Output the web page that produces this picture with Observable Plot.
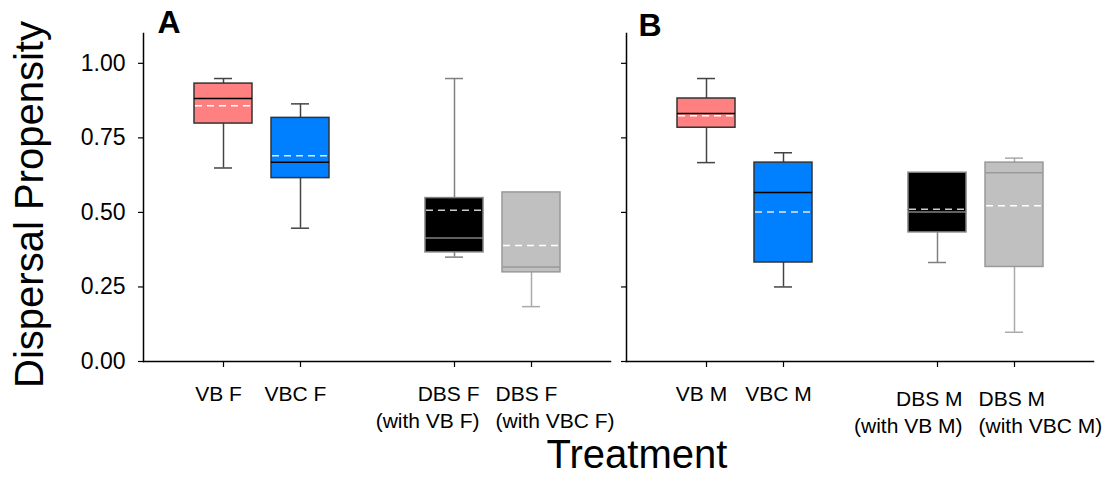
<!DOCTYPE html>
<html><head><meta charset="utf-8">
<script src="https://cdn.jsdelivr.net/npm/d3@7"></script>
<script src="https://cdn.jsdelivr.net/npm/@observablehq/plot@0.6"></script>
<style>
body{margin:0;background:#fff;font-family:"Liberation Sans",Arial,sans-serif;}
#wrap{position:relative;width:1109px;height:477px;background:#fff;}
#wrap svg{position:absolute;top:0;}
#xlabel{position:absolute;left:437px;width:400px;top:434px;height:40px;text-align:center;font-size:40px;line-height:40px;color:#000;}
</style>
</head><body>
<div id="wrap"><div id="xlabel"></div></div>
<script>
// ---- data ----
const yLabel = "Dispersal Propensity";
const xLabel = "Treatment";
const yTicks = [0, 0.25, 0.5, 0.75, 1.0];

const categoriesA = ["VB F", "VBC F", "DBS F\n(with VB F)", "DBS F\n(with VBC F)"];
const lowA    = [0.649, 0.447, 0.350, 0.184];
const q1A     = [0.798, 0.615, 0.366, 0.299];
const medianA = [0.882, 0.668, 0.414, 0.317];
const meanA   = [0.858, 0.690, 0.507, 0.389];
const q3A     = [0.932, 0.817, 0.548, 0.567];
const highA   = [0.949, 0.864, 0.949, 0.567];

const categoriesB = ["VB M", "VBC M", "DBS M\n(with VB M)", "DBS M\n(with VBC M)"];
const lowB    = [0.667, 0.250, 0.332, 0.098];
const q1B     = [0.784, 0.332, 0.433, 0.317];
const medianB = [0.832, 0.567, 0.501, 0.633];
const meanB   = [0.824, 0.501, 0.511, 0.522];
const q3B     = [0.882, 0.667, 0.633, 0.667];
const highB   = [0.949, 0.700, 0.633, 0.682];

// ---- styles ----
const fills   = ["#ff8080", "#0080ff", "#000000", "#c0c0c0"];
const strokes = ["#333333", "#333333", "#808080", "#999999"];
const whisk   = ["#444444", "#444444", "#808080", "#aaaaaa"];
const medCol  = ["#000000", "#000000", "#808080", "#999999"];
const meanCol = ["#ffffff", "#e6e6e6", "#cccccc", "#ffffff"];
const FONT = '"Liberation Sans", Arial, sans-serif';

function rowsOf(cats, low, q1, med, mean, q3, high) {
  return cats.map((c, i) => ({cat: c, i, low: low[i], q1: q1[i], median: med[i], mean: mean[i], q3: q3[i], high: high[i]}));
}

function panel({cats, rows, width, marginLeft, marginRight, letter, showLabels, dbsDy, letterDx, letterDy}) {
  const domain = [cats[0], cats[1], " ", cats[2], cats[3]];
  const lab = {x: "cat", text: "cat", frameAnchor: "bottom", lineAnchor: "top", fontSize: 21, lineHeight: 1.26, fill: "#000"};
  const marks = [
    Plot.ruleX(rows, {x: "cat", y1: "low", y2: "q1", stroke: d => whisk[d.i], strokeWidth: 1.5}),
    Plot.ruleX(rows.filter(d => d.high > d.q3), {x: "cat", y1: "q3", y2: "high", stroke: d => whisk[d.i], strokeWidth: 1.5}),
    Plot.tickY(rows, {x: "cat", y: "low", stroke: d => whisk[d.i], strokeWidth: 1.5, insetLeft: 20, insetRight: 20}),
    Plot.tickY(rows.filter(d => d.high > d.q3), {x: "cat", y: "high", stroke: d => whisk[d.i], strokeWidth: 1.5, insetLeft: 20, insetRight: 20}),
    Plot.barY(rows, {x: "cat", y1: "q1", y2: "q3", fill: d => fills[d.i], stroke: d => strokes[d.i], strokeWidth: 1.5}),
    Plot.tickY(rows, {x: "cat", y: "median", stroke: d => medCol[d.i], strokeWidth: 1.5}),
    Plot.tickY(rows, {x: "cat", y: "mean", stroke: d => meanCol[d.i], strokeWidth: 1.5, strokeDasharray: "7,5", insetLeft: 1, insetRight: 1}),
    Plot.frame({anchor: "left", stroke: "#000", strokeWidth: 1.5}),
    Plot.frame({anchor: "bottom", stroke: "#000", strokeWidth: 1.5}),
    Plot.axisY({ticks: yTicks, tickFormat: showLabels ? d3.format(".2f") : () => "", tickSize: 5, tickPadding: 13, fontSize: 23, label: null, strokeWidth: 1.2}),
    Plot.axisX({ticks: cats, tickSize: 6, tickFormat: () => "", label: null, strokeWidth: 1.2}),
    Plot.text(rows.slice(0, 2), {...lab, dx: -5, dy: 21}),
    Plot.text(rows.slice(2, 3), {...lab, textAnchor: "end", dx: 25, dy: dbsDy}),
    Plot.text(rows.slice(3, 4), {...lab, textAnchor: "start", dx: -36, dy: dbsDy}),
    Plot.text([letter], {frameAnchor: "top-left", textAnchor: "start", lineAnchor: "top", dx: letterDx, dy: letterDy, fontSize: 32, fontWeight: "bold"})
  ];
  if (showLabels) {
    marks.push(Plot.text([yLabel], {frameAnchor: "left", textAnchor: "middle", lineAnchor: "middle", rotate: -90, dx: -113, dy: 7, fontSize: 40}));
  }
  return Plot.plot({
    width, height: 440,
    marginTop: 33, marginBottom: 79, marginLeft, marginRight,
    style: {fontFamily: FONT, background: "transparent", overflow: "visible", color: "#000"},
    x: {type: "band", domain, paddingInner: 0.25, paddingOuter: 0.625, axis: null},
    y: {domain: [0, 1.1], axis: null},
    marks
  });
}

const wrap = document.getElementById("wrap");
const svgA = panel({cats: categoriesA, rows: rowsOf(categoriesA, lowA, q1A, medianA, meanA, q3A, highA),
  width: 612, marginLeft: 143, marginRight: 2, letter: "A", showLabels: true, dbsDy: 21, letterDx: 14, letterDy: -23});
svgA.style.left = "0px";
wrap.appendChild(svgA);
const svgB = panel({cats: categoriesB, rows: rowsOf(categoriesB, lowB, q1B, medianB, meanB, q3B, highB),
  width: 497, marginLeft: 14, marginRight: 16, letter: "B", showLabels: false, dbsDy: 26, letterDx: 12, letterDy: -20});
svgB.style.left = "612px";
wrap.appendChild(svgB);
document.getElementById("xlabel").textContent = xLabel;
</script>
</body></html>
